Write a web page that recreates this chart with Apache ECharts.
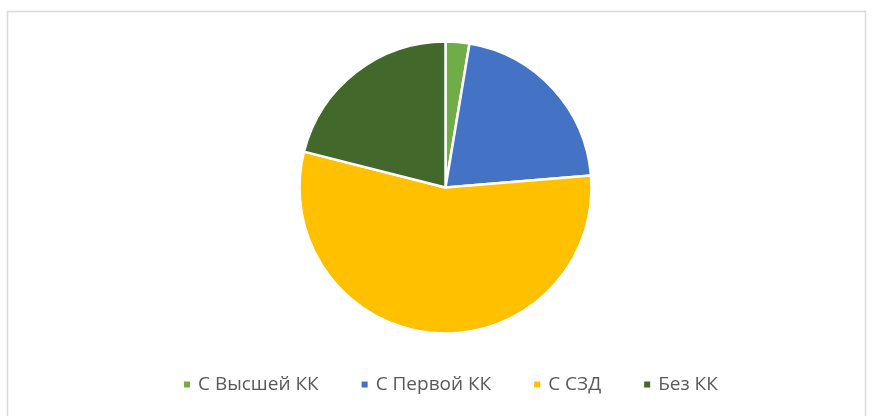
<!DOCTYPE html>
<html>
<head>
<meta charset="utf-8">
<script src="https://cdn.jsdelivr.net/npm/echarts@6/dist/echarts.min.js"></script>
<style>
  html, body { margin: 0; padding: 0; background: #fff; }
  #chart { width: 872px; height: 416px; }
</style>
</head>
<body>
<div id="chart"></div>
<script>
var categories = ['С Высшей КК', 'С Первой КК', 'С СЗД', 'Без КК'];
var values = [1, 8, 21, 8];
var colors = ['#70AD47', '#4472C4', '#FFC000', '#43682B'];

var myChart = echarts.init(document.getElementById('chart'));

var pieData = [];
for (var i = 0; i < categories.length; i++) {
    pieData.push({ name: categories[i], value: values[i] });
}

var option = {
    animation: false,
    color: colors,
    graphic: [{
        type: 'rect',
        shape: { x: 7.5, y: 11.5, width: 858, height: 420 },
        style: { fill: 'none', stroke: '#d9d9d9', lineWidth: 1.5 },
        silent: true
    }],
    legend: {
        data: categories,
        bottom: 17,
        left: 177,
        icon: 'rect',
        itemWidth: 8,
        itemHeight: 8,
        itemGap: 41,
        textStyle: {
            color: '#595959',
            fontSize: 19,
            fontFamily: 'Open Sans',
            padding: [0, 0, 0, 2]
        }
    },
    series: [{
        type: 'pie',
        center: [445.5, 187.5],
        radius: 146,
        startAngle: 90,
        clockwise: true,
        label: { show: false },
        labelLine: { show: false },
        itemStyle: {
            borderColor: '#fff',
            borderWidth: 2.5
        },
        data: pieData
    }]
};

myChart.setOption(option);
</script>
</body>
</html>
